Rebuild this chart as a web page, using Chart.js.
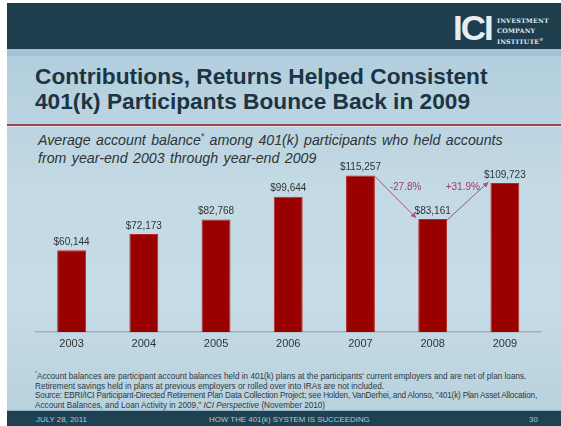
<!DOCTYPE html>
<html>
<head>
<meta charset="utf-8">
<script src="https://cdn.jsdelivr.net/npm/chart.js@4"></script>
<style>
  html, body { margin: 0; padding: 0; background: #fff; }
  #slide {
    position: absolute; left: 7px; top: 3px; width: 554px; height: 423px; overflow: hidden;
    background: linear-gradient(180deg, #a7c6d8 0px, #b3cfdd 60px, #c3d9e4 180px, #c6dce6 300px, #b9d2de 400px);
    font-family: "Liberation Sans", Arial, sans-serif;
  }
  #header { position: absolute; left: 0; top: 0; width: 554px; height: 46px; background: #1e3e4e; }
  #band { position: absolute; left: 0; top: 46px; width: 554px; height: 7px; background: #a3c3d6; }
  #logo { position: absolute; left: 446px; top: 8px; color: #e8eef0; font-weight: bold; font-size: 35px; letter-spacing: -2px; line-height: 34px; }
  #logotext { position: absolute; left: 490px; top: 13px; color: #e3eaee; font-family: "DejaVu Serif", serif; font-size: 6.3px; font-weight: bold; line-height: 9.6px; letter-spacing: 0.2px; }
  #title { position: absolute; left: 28px; top: 61px; color: #1c3444; font-weight: bold; font-size: 22.7px; line-height: 25px; }
  #rule { position: absolute; left: 0; top: 121px; width: 554px; height: 2px; background: #9d4459; border-bottom: 1px solid #dfe9ee; }
  #subtitle { position: absolute; left: 31px; top: 128px; color: #2e3336; font-style: italic; font-size: 14.2px; line-height: 18px; word-spacing: 1.5px; }
  #subtitle sup, #notes sup { font-size: 60%; line-height: 0; }
  #notes { position: absolute; left: 28px; top: 369px; color: #2f3a40; font-size: 8.2px; line-height: 9.5px; white-space: nowrap; }
  #footer { position: absolute; left: 0; top: 407px; width: 554px; height: 16px; background: #1f4152; border-top: 1px solid #8fb1c4; }
  #footer span { position: absolute; top: 4px; color: #b9c7cf; font-size: 7.9px; }
  canvas { position: absolute; left: 0; top: 140px; }
</style>
</head>
<body>
<div id="slide">
  <div id="header"></div>
  <div id="band"></div>
  <div id="logo">ICI</div>
  <div id="logotext">INVESTMENT<br>COMPANY<br>INSTITUTE<sup style="font-size:4px">®</sup></div>
  <div id="title">Contributions, Returns Helped Consistent<br>401(k) Participants Bounce Back in 2009</div>
  <div id="rule"></div>
  <div id="subtitle">Average account balance<sup>*</sup> among 401(k) participants who held accounts<br>from year-end 2003 through year-end 2009</div>
  <div id="notes"><sup>*</sup>Account balances are participant account balances held in 401(k) plans at the participants' current employers and are net of plan loans.<br>Retirement savings held in plans at previous employers or rolled over into IRAs are not included.<br><span style="letter-spacing:-0.18px">Source: EBRI/ICI Participant-Directed Retirement Plan Data Collection Project; see Holden, VanDerhei, and Alonso, "401(k) Plan Asset Allocation,</span><br>Account Balances, and Loan Activity in 2009," <i>ICI Perspective</i> (November 2010)</div>
  <div id="footer">
    <span style="left:29px">JULY 28, 2011</span>
    <span style="left:202px">HOW THE 401(k) SYSTEM IS SUCCEEDING</span>
    <span style="left:522px">30</span>
  </div>
</div>
<canvas id="grafico" width="561" height="230"></canvas>

<script>
const anos = ['2003', '2004', '2005', '2006', '2007', '2008', '2009'];
const saldos = [60144, 72173, 82768, 99644, 115257, 83161, 109723];
const rotulos = ['$60,144', '$72,173', '$82,768', '$99,644', '$115,257', '$83,161', '$109,723'];

// setas de variacao: de qual barra para qual, e o texto
const setasDe = [4, 5];
const setasPara = [5, 6];
const setasTexto = ['-27.8%', '+31.9%'];

const rotulosPlugin = {
    id: 'rotulos',
    afterDatasetsDraw(chart) {
        const ctx = chart.ctx;
        const barras = chart.getDatasetMeta(0).data;
        ctx.save();
        ctx.font = '10px "Liberation Sans", Arial, sans-serif';
        ctx.fillStyle = '#2f3436';
        ctx.textAlign = 'center';
        ctx.textBaseline = 'bottom';
        barras.forEach(function (barra, i) {
            ctx.fillText(rotulos[i], barra.x, barra.y - 3);
        });

        ctx.strokeStyle = '#a0587a';
        ctx.lineWidth = 1;
        setasDe.forEach(function (de, k) {
            const a = barras[de];
            const b = barras[setasPara[k]];
            const x1 = a.x + a.width / 2;
            const y1 = a.y + 1;
            const x2 = b.x - b.width / 2 - 2;
            const y2 = b.y - 1;
            ctx.beginPath();
            ctx.moveTo(x1, y1);
            ctx.lineTo(x2, y2);
            ctx.stroke();
            const ang = Math.atan2(y2 - y1, x2 - x1);
            ctx.fillStyle = '#a0587a';
            ctx.beginPath();
            ctx.moveTo(x2, y2);
            ctx.lineTo(x2 - 6 * Math.cos(ang - 0.45), y2 - 6 * Math.sin(ang - 0.45));
            ctx.lineTo(x2 - 6 * Math.cos(ang + 0.45), y2 - 6 * Math.sin(ang + 0.45));
            ctx.closePath();
            ctx.fill();

            ctx.fillStyle = '#a23c62';
            ctx.textBaseline = 'middle';
            const meio = (a.x + b.x) / 2 + (k == 0 ? 9 : -6);
            ctx.fillText(setasTexto[k], meio, Math.min(a.y, b.y) + (k == 0 ? 12 : 4));
        });
        ctx.restore();
    }
};

const grafico = document.getElementById('grafico');

new Chart(grafico, {
    type: 'bar',
    data: {
        labels: anos,
        datasets: [{
            label: 'Average account balance',
            backgroundColor: '#990000',
            borderColor: '#b82a2a',
            borderWidth: 1,
            data: saldos,
            barPercentage: 0.4,
            categoryPercentage: 1
        }]
    },
    options: {
        responsive: false,
        animation: false,
        devicePixelRatio: 1,
        layout: {
            padding: { left: 35.5, right: 20, top: 29, bottom: 8 }
        },
        plugins: {
            legend: { display: false },
            tooltip: { enabled: false }
        },
        scales: {
            y: {
                display: false,
                beginAtZero: true,
                min: 0,
                max: 120000
            },
            x: {
                grid: { display: false, drawTicks: false },
                border: { display: true, color: '#9fb0ba', width: 1.5 },
                ticks: {
                    color: '#2f3436',
                    padding: 5,
                    font: { family: '"Liberation Sans", Arial, sans-serif', size: 11 }
                },
                afterFit: function (escala) {
                    escala.height = 30;
                }
            }
        }
    },
    plugins: [rotulosPlugin]
});
</script>
</body>
</html>
